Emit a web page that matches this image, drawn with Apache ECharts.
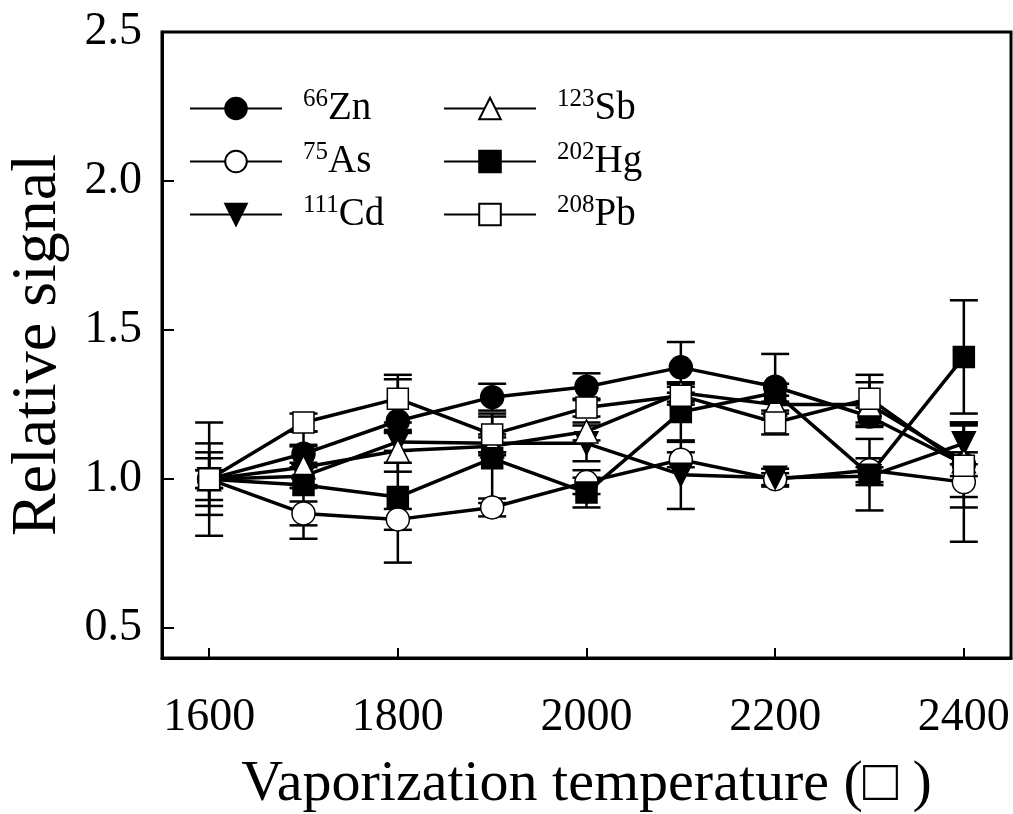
<!DOCTYPE html>
<html>
<head>
<meta charset="utf-8">
<script src="https://cdn.jsdelivr.net/npm/echarts@6/dist/echarts.min.js"></script>
<style>
  html, body { margin: 0; padding: 0; background: #fff; }
  #chart { width: 1013px; height: 814px; }
</style>
</head>
<body>
<div id="chart"></div>
<script>
// temperatures (x)
var temps = [1600, 1700, 1800, 1900, 2000, 2100, 2200, 2300, 2400];
var xTicks = [1600, 1800, 2000, 2200, 2400];
var yTicks = [0.5, 1.0, 1.5, 2.0, 2.5];

// relative signal per element
var zn = [1.00, 1.085, 1.195, 1.275, 1.31, 1.375, 1.31, 1.21, 1.05];
var as = [1.00, 0.885, 0.865, 0.905, 0.99, 1.065, 1.00, 1.03, 0.99];
var cd = [1.00, 1.01, 1.125, 1.12, 1.12, 1.015, 1.005, 1.01, 1.12];
var sb = [1.00, 1.04, 1.095, 1.11, 1.16, 1.29, 1.25, 1.25, 1.06];
var hg = [1.00, 0.98, 0.94, 1.07, 0.955, 1.225, 1.29, 1.015, 1.41];
var pb = [1.00, 1.19, 1.27, 1.15, 1.24, 1.28, 1.19, 1.27, 1.045];

// error (+/-)
var znErr = [0.07, 0.03, 0.14, 0.045, 0.045, 0.085, 0.11, 0.03, 0.04];
var asErr = [0.03, 0.04, 0.035, 0.03, 0.04, 0.025, 0.02, 0.04, 0.20];
var cdErr = [0.09, 0.03, 0.03, 0.03, 0.06, 0.115, 0.03, 0.03, 0.07];
var sbErr = [0.12, 0.07, 0.07, 0.03, 0.03, 0.03, 0.03, 0.075, 0.12];
var hgErr = [0.19, 0.18, 0.22, 0.15, 0.05, 0.10, 0.03, 0.12, 0.19];
var pbErr = [0.03, 0.03, 0.08, 0.06, 0.03, 0.03, 0.04, 0.08, 0.14];

var names = ['Zn', 'As', 'Cd', 'Sb', 'Hg', 'Pb'];
var isotopes = ['66', '75', '111', '123', '202', '208'];
var values = [zn, as, cd, sb, hg, pb];
var errors = [znErr, asErr, cdErr, sbErr, hgErr, pbErr];
var symbols = ['circle', 'circle', 'triangle', 'triangle', 'rect', 'rect'];
var fills = ['#000', '#fff', '#000', '#fff', '#000', '#fff'];
var sizes = [23, 23, 23, 23, 21, 21];

var font = 'Liberation Serif';
var chart = echarts.init(document.getElementById('chart'));

function errBar(params, api) {
  var x = api.value(0);
  var hi = api.coord([x, api.value(2)]);
  var lo = api.coord([x, api.value(1)]);
  var w = 14;
  var st = { stroke: '#000', lineWidth: 2.5 };
  return {
    type: 'group',
    children: [
      { type: 'line', shape: { x1: hi[0], y1: hi[1], x2: lo[0], y2: lo[1] }, style: st },
      { type: 'line', shape: { x1: hi[0] - w, y1: hi[1], x2: hi[0] + w, y2: hi[1] }, style: st },
      { type: 'line', shape: { x1: lo[0] - w, y1: lo[1], x2: lo[0] + w, y2: lo[1] }, style: st }
    ]
  };
}

var series = [];
names.forEach(function (n, k) {
  var eb = temps.map(function (t, i) {
    return [t, values[k][i] - errors[k][i], values[k][i] + errors[k][i]];
  });
  series.push({
    type: 'custom',
    name: n + '_err',
    renderItem: errBar,
    data: eb,
    z: 1,
    silent: true
  });
});
names.forEach(function (n, k) {
  series.push({
    type: 'line',
    name: n,
    data: temps.map(function (t, i) { return [t, values[k][i]]; }),
    symbol: symbols[k],
    symbolRotate: k === 2 ? 180 : 0,
    symbolSize: sizes[k],
    lineStyle: { color: '#000', width: 3.5 },
    itemStyle: { color: fills[k], borderColor: '#000', borderWidth: 1.5 },
    z: 3
  });
});

function legendFmt(name) {
  return '{sup|' + isotopes[names.indexOf(name)] + '}{main|' + name + '}';
}
var legendText = {
  fontFamily: font,
  color: '#000',
  padding: [0, 0, 0, 16],
  rich: {
    sup: { fontFamily: font, fontSize: 25, color: '#000', padding: [0, 0, 18, 0] },
    main: { fontFamily: font, fontSize: 39, color: '#000' }
  }
};

var option = {
  backgroundColor: '#fff',
  animation: false,
  grid: {
    left: 162, top: 32, right: 2, bottom: 156,
    outerBoundsMode: 'none',
    show: true, borderColor: '#000', borderWidth: 3
  },
  legend: [
    {
      data: names.slice(0, 3), orient: 'vertical', left: 189, top: 87, padding: 0,
      itemWidth: 92, itemHeight: 27, itemGap: 12,
      formatter: legendFmt, textStyle: legendText, selectedMode: false
    },
    {
      data: names.slice(3), orient: 'vertical', left: 443, top: 87, padding: 0,
      itemWidth: 92, itemHeight: 27, itemGap: 12,
      formatter: legendFmt, textStyle: legendText, selectedMode: false
    }
  ],
  xAxis: {
    type: 'value', min: 1550, max: 2450,
    name: 'Vaporization temperature (\u25A1 )',
    nameLocation: 'middle', nameGap: 98,
    nameTextStyle: { fontFamily: font, fontSize: 58, color: '#000' },
    axisLine: { lineStyle: { color: '#000', width: 3 } },
    axisTick: { inside: true, length: 10, customValues: xTicks, lineStyle: { color: '#000', width: 2 } },
    axisLabel: {
      customValues: xTicks, margin: 37, fontFamily: font, fontSize: 46, color: '#000',
      formatter: function (v) { return String(v); }
    },
    splitLine: { show: false }
  },
  yAxis: {
    type: 'value', min: 0.4, max: 2.5,
    name: 'Relative signal',
    nameLocation: 'middle', nameGap: 92,
    nameTextStyle: { fontFamily: font, fontSize: 64, color: '#000' },
    axisLine: { lineStyle: { color: '#000', width: 3 } },
    axisTick: { inside: true, length: 12, customValues: yTicks, lineStyle: { color: '#000', width: 2 } },
    axisLabel: {
      customValues: yTicks, margin: 20, fontFamily: font, fontSize: 46, color: '#000',
      formatter: function (v) { return v.toFixed(1); }
    },
    splitLine: { show: false }
  },
  series: series
};
chart.setOption(option);
</script>
</body>
</html>
